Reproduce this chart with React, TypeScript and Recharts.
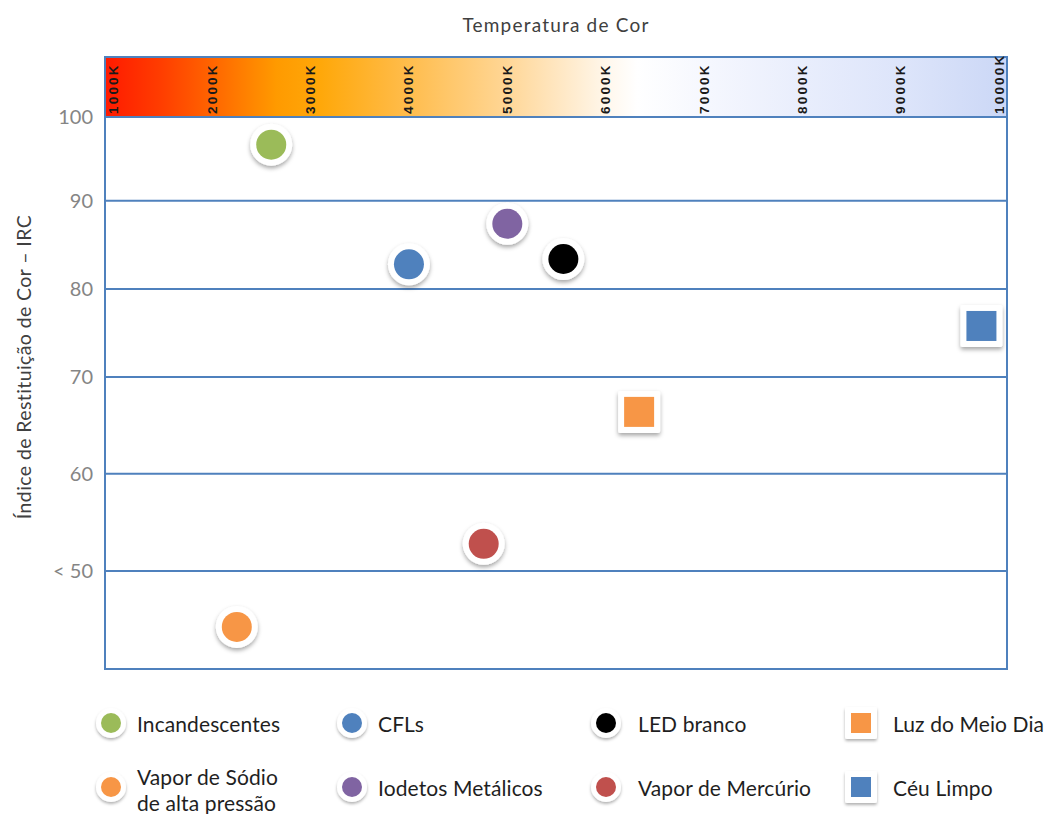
import React from 'react';
import { ScatterChart, Scatter, XAxis, YAxis, CartesianGrid, ReferenceArea } from 'recharts';

// lamp types, in legend order (row 1 then row 2)
const lampNames = [
  'Incandescentes',
  'CFLs',
  'LED branco',
  'Luz do Meio Dia',
  'Vapor de Sódio\nde alta pressão',
  'Iodetos Metálicos',
  'Vapor de Mercúrio',
  'Céu Limpo',
];
const colorTempK = [2600, 4000, 5570, 6340, 2250, 5000, 4760, 9820];
const ircValues = [96.7, 82.8, 83.4, 66.4, 44.3, 87.4, 52.8, 75.8];
const lampColors = ['#9BBB59', '#4F81BD', '#000000', '#F79646', '#F79646', '#8064A2', '#C0504D', '#4F81BD'];
const markerKinds = ['circle', 'circle', 'circle', 'square', 'circle', 'circle', 'circle', 'square'];

const kelvinTicks = [1000, 2000, 3000, 4000, 5000, 6000, 7000, 8000, 9000, 10000];
const ircTicks = [50, 60, 70, 80, 90, 100];

// the IRC axis in the original is drawn by hand, gaps between gridlines are not even
const ircSteps = [40, 50, 60, 70, 80, 90, 100, 107];
const ircStepPos = [0, 0.16, 0.319, 0.477, 0.621, 0.765, 0.902, 1];

const BLUE = '#4F81BD';
const PLOT_TOP = 57;
const FONT = "Lato, 'Open Sans', sans-serif";

function ircScale(): any {
  let dom = [40, 107];
  let rng = [0, 1];
  const frac = (v: number) => {
    if (v <= ircSteps[0]) return ircStepPos[0];
    for (let i = 0; i < ircSteps.length - 1; i++) {
      if (v <= ircSteps[i + 1]) {
        const t = (v - ircSteps[i]) / (ircSteps[i + 1] - ircSteps[i]);
        return ircStepPos[i] + t * (ircStepPos[i + 1] - ircStepPos[i]);
      }
    }
    return 1;
  };
  const s: any = (v: number) => rng[0] + (rng[1] - rng[0]) * frac(v);
  s.domain = (d?: number[]) => {
    if (d === undefined) return dom.slice();
    dom = d.slice();
    return s;
  };
  s.range = (r?: number[]) => {
    if (r === undefined) return rng.slice();
    rng = r.slice();
    return s;
  };
  s.copy = () => ircScale().domain(dom).range(rng);
  s.ticks = () => ircTicks.slice();
  s.tickFormat = () => (v: number) => String(v);
  s.invert = (px: number) => {
    const f = (px - rng[0]) / (rng[1] - rng[0]);
    for (let i = 0; i < ircStepPos.length - 1; i++) {
      if (f <= ircStepPos[i + 1]) {
        const t = (f - ircStepPos[i]) / (ircStepPos[i + 1] - ircStepPos[i]);
        return ircSteps[i] + t * (ircSteps[i + 1] - ircSteps[i]);
      }
    }
    return ircSteps[ircSteps.length - 1];
  };
  s.clamp = () => s;
  s.nice = () => s;
  return s;
}

const yScale = ircScale();

const lamps = lampNames.map((name, i) => ({
  name,
  color: lampColors[i],
  kind: markerKinds[i],
  data: [{ k: colorTempK[i], irc: ircValues[i] }],
}));

const Marker = ({ cx, cy, color, kind, r = 15, ring = 6 }: any) => {
  if (cx == null || cy == null) return null;
  if (kind === 'square') {
    const h = r;
    return (
      <g>
        <rect x={cx - h - ring} y={cy - h - ring} width={2 * (h + ring)} height={2 * (h + ring)} rx={2} fill="#fff" filter="url(#markShadow)" />
        <rect x={cx - h} y={cy - h} width={2 * h} height={2 * h} fill={color} />
      </g>
    );
  }
  return (
    <g>
      <circle cx={cx} cy={cy} r={r + ring} fill="#fff" filter="url(#markShadow)" />
      <circle cx={cx} cy={cy} r={r} fill={color} />
    </g>
  );
};

const KelvinTick = ({ x, payload }: any) => (
  <text
    transform={`translate(${x},${PLOT_TOP + 57}) rotate(-90)`}
    textAnchor="start"
    dominantBaseline="central"
    fontSize={13.5}
    fontWeight="bold"
    fontFamily="Arial, 'Liberation Sans', sans-serif"
    letterSpacing={2.2}
    fill="#1a1a1a"
  >
    {payload.value}K
  </text>
);

const legendIconX = [111, 352, 606, 861];
const legendTextX = [137, 378, 638, 893];
const legendRowY = [723, 787];

export default function App() {
  return (
    <div style={{ position: 'relative', width: 1046, height: 814, background: '#fff', fontFamily: FONT }}>
      <style>{'body{margin:0}'}</style>
      <div style={{ position: 'absolute', left: 0, width: 1112, top: 13, textAlign: 'center', fontSize: 19, color: '#404040', letterSpacing: 1.2 }}>
        Temperatura de Cor
      </div>
      <div
        style={{
          position: 'absolute',
          left: 23,
          top: 367,
          transform: 'translate(-50%, -50%) rotate(-90deg)',
          whiteSpace: 'nowrap',
          fontSize: 19.5,
          letterSpacing: 0.4,
          color: '#404040',
        }}
      >
        Índice de Restituição de Cor – IRC
      </div>

      <div style={{ position: 'absolute', left: 0, top: 0 }}>
        <ScatterChart width={1046} height={814} margin={{ top: 0, right: 39, bottom: 145, left: 10 }}>
          <defs>
            <linearGradient id="cctGradient" x1="0" y1="0" x2="1" y2="0">
              <stop offset="0%" stopColor="#FF1A00" />
              <stop offset="6%" stopColor="#FF3C00" />
              <stop offset="12%" stopColor="#FF6600" />
              <stop offset="19%" stopColor="#FF9A00" />
              <stop offset="24%" stopColor="#FFA80A" />
              <stop offset="33%" stopColor="#FFBB48" />
              <stop offset="44%" stopColor="#FFD592" />
              <stop offset="50%" stopColor="#FFE6C0" />
              <stop offset="56%" stopColor="#FFF8EE" />
              <stop offset="59%" stopColor="#FFFFFF" />
              <stop offset="67%" stopColor="#F5F7FE" />
              <stop offset="78%" stopColor="#E8EDFC" />
              <stop offset="89%" stopColor="#DCE4FA" />
              <stop offset="100%" stopColor="#CBD7F6" />
            </linearGradient>
            <filter id="markShadow" x="-50%" y="-50%" width="200%" height="200%">
              <feDropShadow dx="0" dy="2.5" stdDeviation="2" floodColor="#000" floodOpacity="0.35" />
            </filter>
          </defs>
          <CartesianGrid vertical={false} stroke={BLUE} strokeWidth={2} />
          <XAxis
            type="number"
            dataKey="k"
            orientation="top"
            domain={[910, 10080]}
            ticks={kelvinTicks}
            height={PLOT_TOP}
            axisLine={false}
            tickLine={false}
            tick={<KelvinTick />}
            allowDataOverflow
          />
          <YAxis
            type="number"
            dataKey="irc"
            domain={[40, 107]}
            scale={yScale}
            ticks={ircTicks}
            width={95}
            axisLine={false}
            tickLine={false}
            tickSize={0}
            tickMargin={12}
            tickFormatter={(v: number) => (v === 50 ? '< 50' : String(v))}
            tick={{ fill: '#858585', fontSize: 20, fontFamily: FONT }}
            allowDataOverflow
          />
          <ReferenceArea x1={910} x2={10080} y1={100} y2={107} fill="url(#cctGradient)" fillOpacity={1} stroke={BLUE} strokeWidth={2} />
          <ReferenceArea x1={910} x2={10080} y1={40} y2={107} fill="none" fillOpacity={0} stroke={BLUE} strokeWidth={2} />
          {lamps.map((l) => (
            <Scatter
              key={l.name}
              name={l.name}
              data={l.data}
              fill={l.color}
              isAnimationActive={false}
              shape={(p: any) => <Marker cx={p.cx} cy={p.cy} color={l.color} kind={l.kind} />}
            />
          ))}
        </ScatterChart>
      </div>

      <svg width={1046} height={814} style={{ position: 'absolute', left: 0, top: 0, pointerEvents: 'none' }}>
        <defs>
          <filter id="legShadow" x="-50%" y="-50%" width="200%" height="200%">
            <feDropShadow dx="0" dy="2" stdDeviation="1.5" floodColor="#000" floodOpacity="0.3" />
          </filter>
        </defs>
        {lamps.map((l, i) => {
          const col = i % 4;
          const row = Math.floor(i / 4);
          const cy = legendRowY[row];
          const lines = l.name.split('\n');
          return (
            <g key={l.name}>
              {l.kind === 'square' ? (
                <g>
                  <rect x={legendIconX[col] - 16} y={cy - 16} width={32} height={32} rx={2} fill="#fff" filter="url(#legShadow)" />
                  <rect x={legendIconX[col] - 10} y={cy - 10} width={20} height={20} fill={l.color} />
                </g>
              ) : (
                <g>
                  <circle cx={legendIconX[col]} cy={cy} r={15} fill="#fff" filter="url(#legShadow)" />
                  <circle cx={legendIconX[col]} cy={cy} r={10} fill={l.color} />
                </g>
              )}
              {lines.map((line, j) => (
                <text
                  key={j}
                  x={legendTextX[col]}
                  y={cy + (lines.length > 1 ? (j === 0 ? -11 : 15) : 0)}
                  dominantBaseline="central"
                  fontSize={21}
                  letterSpacing={0.1}
                  fontFamily={FONT}
                  fill="#1f1f1f"
                >
                  {line}
                </text>
              ))}
            </g>
          );
        })}
      </svg>
    </div>
  );
}
